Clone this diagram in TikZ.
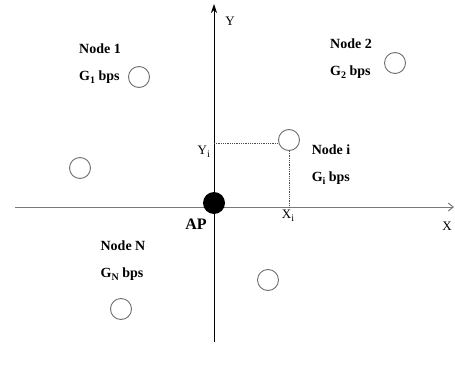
\documentclass[tikz,border=0pt]{standalone}
\usepackage{fontspec}
\setmainfont{Liberation Serif}
\usepackage{tikz}
\usetikzlibrary{arrows.meta,positioning,calc}
\definecolor{axisgray}{HTML}{7A7A7A}
\definecolor{ringgray}{HTML}{6E6E6E}
\newcommand{\lowsub}[1]{\raisebox{-3.2pt}{\fontsize{10}{10}\selectfont #1}}

\begin{document}
\begin{tikzpicture}[
  x=1pt,y=-1pt,
  nd/.style={circle,draw=ringgray,line width=0.9pt,fill=white,
             minimum size=21pt,inner sep=0pt},
  ap/.style={circle,fill=black,minimum size=22pt,inner sep=0pt},
  lbl/.style={font=\fontsize{14}{27}\selectfont\bfseries,align=left,
              inner sep=0pt},
  axlbl/.style={font=\fontsize{13}{14}\selectfont,inner sep=0pt},
  proj/.style={densely dotted,black!70,line width=0.8pt}
]
  \useasboundingbox (0,0) rectangle (455,369);

  % axes
  \coordinate (xl) at (15,207);
  \coordinate (xr) at (454,207);
  \coordinate (yb) at (214,342);
  \coordinate (yt) at (214,4);
  \draw[axisgray,line width=1pt,-{Straight Barb[length=5pt,width=8pt]}](xl)--(xr);
  \draw[black,line width=0.9pt,-{Stealth[length=9pt,width=6pt]}](yb)--(yt);
  \node[axlbl](xlab) at (447,226){X};
  \node[axlbl](ylab) at (230,21){Y};

  % access point
  \node[ap](ap) at (214,203){};
  \node[lbl,font=\fontsize{16}{18}\selectfont\bfseries](aplab) at (196,224){AP};

  % nodes
  \node[nd](n1) at (139,77){};
  \node[nd](n2) at (395,63){};
  \node[nd](ni) at (289,140){};
  \node[nd](na) at (80,168){};
  \node[nd](nb) at (268,280){};
  \node[nd](nn) at (121,309){};

  \node[lbl](n1lab) at (100,64){Node 1\\G\lowsub{1} bps};
  \node[lbl](n2lab) at (351,59){Node 2\\G\lowsub{2} bps};
  \node[lbl](nilab) at (331,165){Node i\\G\lowsub{i} bps};
  \node[lbl](nnlab) at (123,261){Node N\\G\lowsub{N} bps};

  % projections of node i
  \coordinate (yi) at (214,143);
  \draw[proj](yi)--(yi -| ni.west);
  \draw[proj](ni.south)--(ni.south |- xr);
  \node[axlbl,anchor=east](yilab) at (210,152){Y\lowsub{i}};
  \node[axlbl](xilab) at (288,216){X\lowsub{i}};
\end{tikzpicture}
\end{document}
